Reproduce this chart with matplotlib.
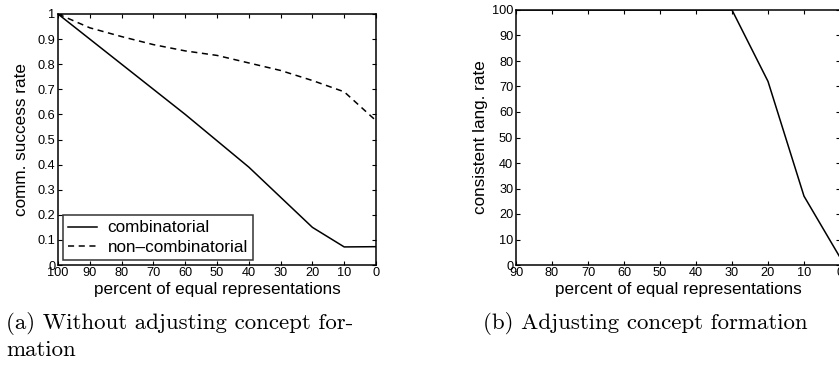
import numpy as np
import matplotlib
matplotlib.use("Agg")
import matplotlib.pyplot as plt

# percent of equal representations
pct_a = [100, 90, 80, 70, 60, 50, 40, 30, 20, 10, 0]
comb_a = [1.0, 0.90, 0.80, 0.70, 0.60, 0.495, 0.39, 0.27, 0.15, 0.072, 0.073]
noncomb_a = [1.0, 0.945, 0.91, 0.878, 0.853, 0.835, 0.805, 0.775, 0.735, 0.69, 0.575]

pct_b = [90, 80, 70, 60, 50, 40, 30, 20, 10, 0]
consistent_b = [100, 100, 100, 100, 100, 100, 100, 72, 27, 3]

plt.rcParams['font.family'] = ['Liberation Sans', 'DejaVu Sans']
W, H = 839, 365
fig = plt.figure(figsize=(W / 100, H / 100), dpi=100)


def box(ax):
    ax.tick_params(direction='in', top=True, right=True, length=3, width=0.8,
                   labelsize=9.2, pad=2)
    ax.tick_params(axis='x', pad=1.5)
    for s in ax.spines.values():
        s.set_linewidth(1.1)


# ---------------- (a) ----------------
axA = fig.add_axes([58 / W, 1 - 265 / H, (376 - 58) / W, (265 - 14) / H])
axA.plot(pct_a, comb_a, color='black', lw=1.1, label='combinatorial')
axA.plot(pct_a, noncomb_a, color='black', lw=1.1, ls=(0, (4, 3)),
         label='non\u2013combinatorial')
axA.set_xlim(100, 0)
axA.set_ylim(0, 1)
axA.set_xticks(np.arange(100, -1, -10))
axA.set_yticks(np.arange(0, 1.01, 0.1))
axA.set_yticklabels(['0'] + ['%.1f' % v for v in np.arange(0.1, 0.95, 0.1)] + ['1'])
box(axA)
axA.set_xlabel('percent of equal representations', fontsize=12.3, labelpad=2)
axA.set_ylabel('comm. success rate', fontsize=12.3, labelpad=6)
leg = axA.legend(loc='lower left', fontsize=12.3, frameon=True, fancybox=False,
                 edgecolor='black', borderaxespad=0.3, handlelength=1.7,
                 labelspacing=0.25, borderpad=0.3, handletextpad=0.6)
leg.get_frame().set_linewidth(1.1)

# ---------------- (b) ----------------
axB = fig.add_axes([516 / W, 1 - 265 / H, (840 - 516) / W, (265 - 10) / H])
axB.plot(pct_b, consistent_b, color='black', lw=1.1)
axB.set_xlim(90, 0)
axB.set_ylim(0, 100)
axB.set_xticks(np.arange(90, -1, -10))
axB.set_yticks(np.arange(0, 101, 10))
box(axB)
axB.set_xlabel('percent of equal representations', fontsize=12.3, labelpad=2)
axB.set_ylabel('consistent lang. rate', fontsize=12.3, labelpad=3)

# captions
cap = dict(family=['cmr10', 'DejaVu Serif'], fontsize=16.5)
fig.text(6 / W, 1 - 329 / H, '(a) Without adjusting concept for-', ha='left',
         va='baseline', **cap)
fig.text(6 / W, 1 - 356 / H, 'mation', ha='left', va='baseline', **cap)
fig.text(483 / W, 1 - 329 / H, '(b) Adjusting concept formation', ha='left',
         va='baseline', **cap)

fig.savefig('out.png', dpi=100)
